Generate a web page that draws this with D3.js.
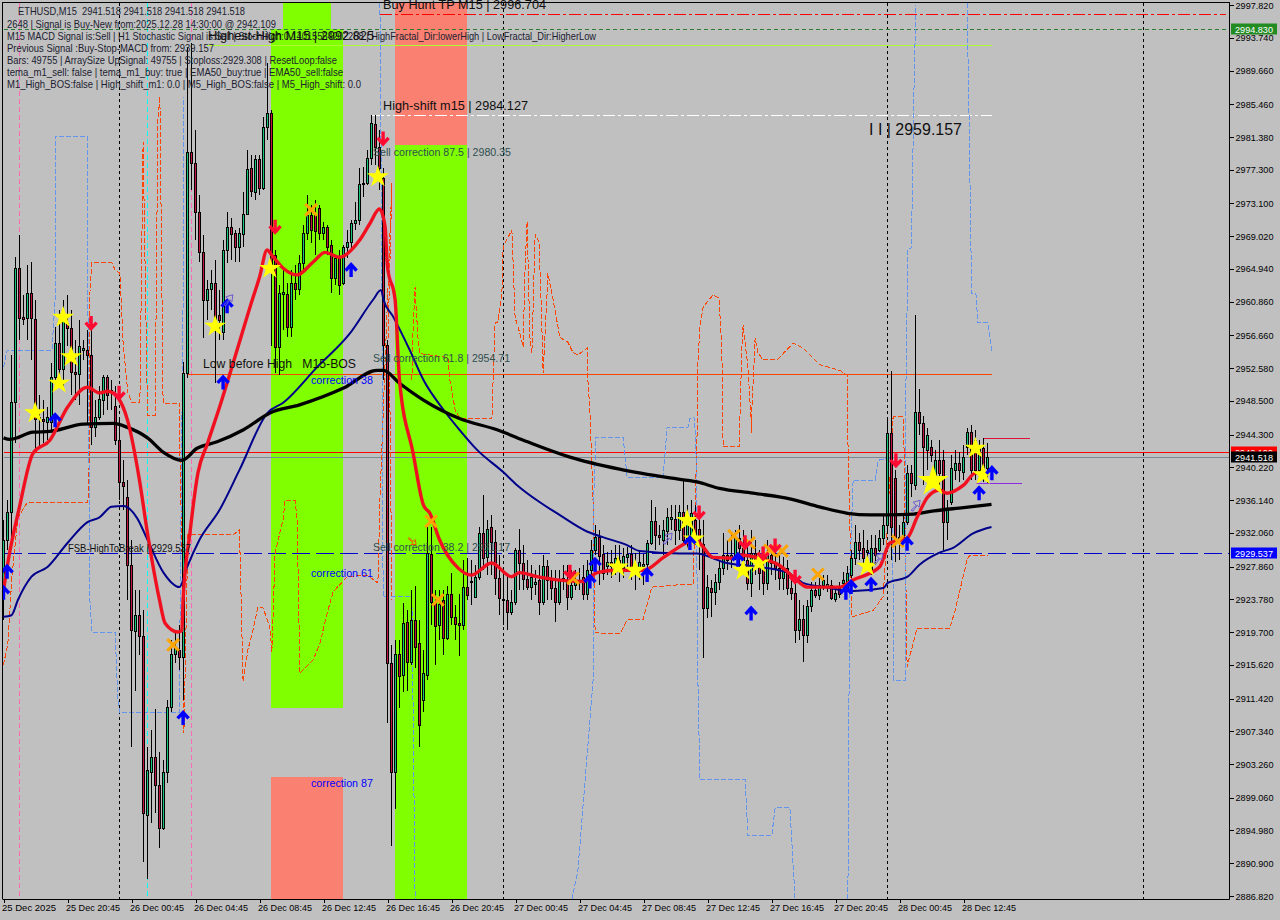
<!DOCTYPE html>
<html><head><meta charset="utf-8">
<script src="https://cdn.jsdelivr.net/npm/d3@7/dist/d3.min.js"></script>
<style>html,body{margin:0;padding:0;background:#c0c0c0;overflow:hidden}svg{display:block}text{font-family:"Liberation Sans",Arial,sans-serif;white-space:pre}</style>
</head><body><svg id="c" width="1280" height="920"></svg>
<script>
const priceTicks=[2997.82,2993.74,2989.66,2985.46,2981.38,2977.30,2973.10,2969.02,2964.94,2960.86,2956.66,2952.58,2948.50,2944.30,2940.22,2936.14,2932.06,2927.86,2923.78,2919.70,2915.62,2911.42,2907.34,2903.26,2899.06,2894.98,2890.90,2886.82];
const timeBars=[0,16,32,48,64,80,96,112,128,144,160,176,192,208,224,240];
const timeLabels=["25 Dec 2025","25 Dec 20:45","26 Dec 00:45","26 Dec 04:45","26 Dec 08:45","26 Dec 12:45","26 Dec 16:45","26 Dec 20:45","27 Dec 00:45","27 Dec 04:45","27 Dec 08:45","27 Dec 12:45","27 Dec 16:45","27 Dec 20:45","28 Dec 00:45","28 Dec 12:45"];
const opens=[2924.9,2931.2,2934.7,2948.3,2965.0,2959.0,2958.8,2961.9,2958.7,2946.5,2946.3,2945.9,2945.9,2951.5,2955.7,2952.5,2958.2,2957.6,2952.1,2951.9,2954.8,2954.8,2954.2,2945.2,2946.5,2948.6,2951.5,2949.9,2947.9,2943.6,2938.4,2936.5,2928.1,2919.8,2921.8,2919.2,2896.9,2902.3,2904.1,2900.7,2895.3,2902.3,2910.4,2917.0,2917.5,2916.6,2952.0,2979.5,2978.1,2972.0,2967.0,2961.1,2962.4,2963.2,2959.2,2957.1,2967.3,2970.2,2969.4,2967.7,2969.3,2971.8,2977.5,2974.5,2978.6,2975.0,2982.6,2984.4,2966.7,2955.2,2961.8,2961.8,2957.7,2963.2,2962.4,2965.7,2969.4,2971.6,2971.6,2972.5,2969.4,2970.2,2967.9,2963.8,2966.3,2963.2,2967.7,2968.3,2970.7,2971.0,2975.5,2975.6,2978.8,2983.0,2980.1,2976.3,2955.5,2915.8,2902.3,2917.0,2914.3,2920.9,2916.0,2921.2,2918.4,2911.2,2914.3,2929.4,2923.3,2920.6,2923.7,2918.9,2924.5,2921.6,2920.8,2920.6,2925.3,2926.1,2924.1,2926.6,2932.0,2929.0,2932.8,2930.9,2926.4,2923.8,2923.7,2922.2,2923.4,2929.9,2928.3,2926.3,2925.3,2925.7,2926.2,2923.4,2927.9,2926.2,2925.2,2923.4,2926.4,2926.2,2924.1,2925.6,2926.2,2926.6,2924.4,2927.4,2929.9,2931.5,2929.4,2927.9,2928.4,2927.7,2928.7,2927.7,2929.0,2929.4,2928.1,2927.7,2927.9,2928.2,2930.8,2933.5,2931.8,2931.2,2932.3,2933.8,2933.8,2932.4,2934.6,2931.2,2931.5,2933.6,2932.6,2930.7,2922.7,2925.2,2924.7,2925.9,2927.7,2929.3,2928.9,2929.3,2931.4,2930.2,2928.7,2925.8,2929.6,2928.7,2927.8,2925.8,2929.3,2928.3,2927.7,2926.4,2927.7,2925.2,2924.6,2920.0,2921.3,2919.3,2922.9,2924.9,2924.3,2925.6,2925.4,2925.6,2923.8,2925.2,2925.8,2925.3,2926.8,2928.9,2930.9,2930.2,2929.7,2927.2,2930.2,2929.9,2931.4,2933.0,2944.5,2938.9,2931.2,2931.5,2933.4,2939.5,2938.0,2947.1,2945.7,2942.4,2942.8,2938.6,2941.1,2941.1,2933.4,2935.9,2939.9,2940.8,2939.6,2942.8,2944.6,2943.6,2939.9,2942.6,2940.1];
const highs=[2933.6,2936.1,2954.2,2966.4,2969.2,2961.7,2965.4,2965.8,2961.1,2949.2,2948.6,2947.7,2953.2,2957.7,2959.8,2961.1,2961.7,2959.8,2956.1,2958.6,2956.1,2957.3,2957.3,2948.6,2950.4,2951.7,2951.7,2951.1,2950.4,2946.1,2941.1,2938.6,2931.2,2924.9,2924.9,2922.4,2905.4,2907.5,2910.1,2904.7,2903.8,2911.2,2918.7,2919.7,2920.6,2953.3,2992.6,2993.1,2982.2,2974.1,2969.2,2963.5,2964.8,2966.0,2962.3,2968.5,2972.0,2971.3,2969.8,2970.0,2974.5,2979.8,2979.1,2979.1,2979.1,2983.9,2990.6,2984.7,2967.3,2962.9,2964.8,2963.2,2964.8,2965.4,2966.7,2970.4,2974.1,2972.9,2973.5,2972.9,2970.8,2970.4,2968.5,2966.7,2967.3,2967.9,2969.8,2971.0,2973.3,2977.5,2977.6,2979.8,2984.1,2984.1,2982.2,2977.5,2956.1,2918.1,2918.7,2918.7,2923.3,2922.4,2924.9,2925.5,2921.2,2917.5,2932.8,2932.8,2924.9,2924.9,2924.9,2925.4,2927.0,2923.1,2924.5,2928.7,2928.9,2928.7,2928.0,2932.8,2936.8,2933.6,2934.3,2932.4,2929.3,2927.4,2926.8,2924.9,2930.2,2932.6,2930.5,2928.7,2928.0,2927.4,2928.0,2929.3,2928.7,2927.4,2927.4,2927.4,2928.0,2928.0,2927.4,2927.4,2927.7,2928.0,2928.7,2931.2,2933.0,2932.4,2930.5,2929.7,2929.9,2930.5,2930.5,2930.2,2930.3,2930.5,2929.6,2929.9,2929.4,2931.2,2936.1,2935.3,2933.0,2933.6,2935.1,2935.5,2935.5,2935.5,2938.6,2935.5,2936.1,2935.5,2934.9,2933.6,2926.8,2926.2,2926.9,2928.7,2932.0,2931.2,2931.8,2932.4,2933.0,2932.4,2931.2,2932.4,2931.2,2929.9,2929.3,2931.2,2930.5,2929.7,2929.3,2929.0,2928.7,2926.8,2926.2,2923.7,2923.1,2923.7,2925.9,2925.9,2926.4,2926.8,2926.8,2926.2,2924.9,2925.9,2927.2,2927.9,2929.9,2933.0,2932.0,2932.4,2931.2,2931.8,2931.8,2932.4,2934.3,2946.5,2952.2,2939.9,2933.0,2934.3,2940.5,2940.5,2959.2,2950.0,2946.6,2945.1,2943.6,2942.4,2943.6,2942.4,2936.1,2941.7,2942.4,2942.1,2943.0,2945.1,2945.5,2944.9,2943.6,2943.9,2943.2];
const lows=[2921.2,2929.9,2931.2,2943.2,2956.1,2957.9,2956.1,2953.6,2942.4,2942.8,2943.2,2943.6,2944.9,2949.9,2950.4,2950.4,2955.4,2949.2,2948.6,2948.0,2953.6,2945.5,2943.0,2944.0,2946.1,2946.7,2947.4,2947.4,2943.0,2936.1,2934.9,2923.7,2905.4,2912.4,2916.8,2891.0,2889.0,2895.9,2897.1,2892.8,2895.0,2900.9,2909.7,2915.8,2915.0,2911.2,2951.4,2974.8,2968.5,2965.8,2956.3,2958.6,2959.8,2950.7,2956.1,2956.1,2965.7,2966.0,2965.8,2965.8,2967.7,2971.7,2973.9,2973.5,2974.1,2974.8,2981.0,2955.4,2952.0,2951.7,2957.3,2956.5,2956.5,2961.1,2961.7,2964.8,2968.5,2968.2,2966.7,2968.5,2968.5,2966.7,2961.9,2962.9,2961.7,2962.9,2966.3,2967.3,2969.8,2970.4,2973.9,2975.4,2977.9,2977.9,2974.8,2951.1,2908.4,2893.0,2897.6,2910.2,2912.2,2912.4,2915.6,2915.2,2905.4,2909.7,2913.7,2920.6,2915.6,2918.7,2916.8,2918.7,2920.6,2918.7,2916.7,2920.0,2923.7,2923.1,2923.9,2926.2,2927.4,2926.8,2926.8,2924.3,2921.8,2920.6,2920.0,2921.8,2923.1,2924.9,2924.9,2924.9,2923.7,2924.3,2921.8,2923.1,2923.7,2923.7,2921.0,2923.1,2924.9,2922.4,2923.7,2924.9,2924.9,2923.7,2923.7,2926.8,2929.3,2925.6,2926.2,2926.8,2926.4,2926.8,2926.0,2926.4,2927.4,2926.2,2924.9,2926.2,2925.6,2926.8,2930.5,2929.9,2930.5,2929.3,2930.5,2932.4,2930.5,2931.2,2930.5,2930.2,2930.5,2930.5,2927.4,2916.5,2921.4,2921.6,2923.1,2924.9,2926.8,2927.4,2927.7,2928.7,2927.7,2926.8,2924.9,2924.1,2926.8,2924.9,2924.3,2924.9,2926.8,2926.2,2924.9,2924.9,2924.3,2923.7,2918.4,2918.7,2916.0,2918.3,2922.2,2923.9,2923.7,2924.9,2924.7,2923.7,2923.4,2923.9,2924.9,2924.9,2926.4,2928.1,2928.7,2928.1,2928.4,2926.8,2928.1,2929.7,2930.5,2932.2,2928.7,2928.4,2928.7,2931.2,2933.0,2936.5,2937.4,2944.2,2938.0,2939.9,2940.9,2937.4,2938.0,2929.9,2931.2,2935.5,2938.6,2938.4,2938.6,2941.7,2938.6,2938.6,2938.6,2938.4,2938.3];
const closes=[2931.2,2934.6,2948.3,2965.0,2958.8,2958.7,2961.9,2958.8,2946.3,2946.3,2946.0,2946.5,2951.5,2955.7,2952.5,2958.6,2957.6,2952.1,2951.9,2955.3,2955.1,2954.2,2945.2,2946.5,2948.7,2951.5,2949.2,2949.6,2943.6,2938.4,2937.9,2928.1,2920.0,2921.8,2919.2,2897.1,2902.5,2904.1,2900.6,2895.3,2902.3,2910.4,2917.0,2917.9,2916.6,2952.0,2979.5,2978.1,2972.0,2967.0,2961.1,2962.4,2963.2,2958.6,2958.6,2967.3,2970.2,2969.3,2967.7,2969.4,2971.8,2977.4,2974.6,2978.6,2975.0,2982.6,2984.4,2964.8,2955.2,2961.9,2962.1,2957.7,2963.2,2962.4,2965.7,2969.4,2971.6,2969.8,2969.7,2969.4,2970.2,2967.7,2963.8,2966.3,2962.9,2967.7,2968.3,2970.7,2971.0,2975.5,2975.6,2978.8,2983.1,2980.1,2977.5,2955.5,2915.8,2902.3,2917.0,2914.2,2920.8,2916.0,2921.2,2917.8,2908.1,2914.6,2929.5,2923.4,2920.5,2923.2,2918.9,2924.5,2921.6,2920.7,2920.6,2925.3,2924.3,2925.9,2926.6,2932.0,2928.9,2932.6,2930.9,2926.4,2923.9,2923.7,2922.2,2923.4,2929.9,2928.3,2926.3,2925.3,2926.6,2925.9,2923.4,2927.9,2926.2,2925.2,2923.4,2926.2,2926.2,2924.1,2925.6,2926.2,2925.9,2924.4,2927.4,2929.9,2931.5,2929.2,2927.1,2928.4,2927.9,2928.9,2927.4,2929.2,2929.4,2927.4,2927.4,2928.4,2928.2,2930.8,2933.5,2931.8,2931.5,2932.4,2934.0,2934.0,2932.4,2934.6,2931.2,2934.0,2934.5,2931.2,2930.8,2922.7,2925.3,2924.7,2925.9,2927.7,2929.3,2928.7,2929.3,2931.4,2930.2,2928.7,2925.8,2929.6,2928.7,2927.1,2925.8,2929.3,2928.3,2927.7,2926.4,2927.7,2925.2,2924.6,2920.0,2921.3,2919.3,2922.9,2924.9,2924.3,2925.6,2926.2,2925.7,2923.9,2924.6,2924.4,2926.2,2927.0,2928.9,2930.9,2929.9,2928.9,2929.9,2930.2,2929.3,2931.4,2933.0,2944.5,2932.8,2931.2,2931.5,2933.4,2939.5,2938.3,2947.1,2945.7,2942.8,2944.2,2941.7,2941.1,2939.5,2933.4,2935.0,2940.1,2940.8,2939.9,2941.5,2944.6,2939.9,2939.9,2942.6,2939.0,2941.518];

const temaBars=[0,1.1,4,7.4,11.6,16,21,24,26,28.6,31,34,36,39,40.4,43.6,44.6,44.9,46.6,48.6,51,54,57.4,62.4,64,65.9,67,70,73.4,77.4,80.4,84,89,91.6,94,95.4,96,97.9,99,102.4,105,106.6,109,113.6,117,122,127,129,133.4,138.4,144.9,148.4,153.4,160,165,171,172.4,174,177.4,182.4,184,189,194,197.4,201,209,212.4,219,221.6,225.9,228.4,231,234,235.9,240,243,246];
const temaVals=[2924.9,2928.4,2935.3,2942.0,2943.6,2947.7,2950.2,2949.5,2949.7,2948.9,2946.1,2938.6,2932.0,2923.7,2920.8,2919.7,2919.9,2923.7,2932.0,2939.5,2943.2,2947.7,2953.2,2961.4,2963.9,2967.3,2966.7,2965.0,2964.2,2965.8,2967.0,2966.4,2968.5,2970.6,2972.4,2970.2,2965.2,2961.1,2951.1,2942.0,2935.5,2934.5,2931.2,2927.7,2926.8,2928.3,2926.6,2927.1,2926.6,2926.2,2926.0,2927.1,2927.4,2927.4,2929.0,2930.9,2931.2,2930.8,2929.0,2928.9,2929.3,2928.9,2928.0,2926.6,2925.3,2925.3,2926.2,2927.8,2930.8,2931.4,2934.0,2936.5,2937.4,2937.0,2938.0,2939.5,2939.3];
const ema50Bars=[0,2,3.6,7,11,16,21,24,27,30,33.4,36,40,44,45.9,49,54,59,66,70,78.4,86.6,92.4,94.4,95,97.4,101.6,105,110,114,118.4,125,128.4,134,139,146,150,156,159,169,173.4,177.4,180,187.4,196,200,206.6,211.6,220,221,226,229,234,237.4,242.4,247];
const ema50Vals=[2921.6,2921.8,2923.7,2926.6,2927.8,2930.8,2933.4,2934.0,2935.3,2935.4,2933.9,2931.2,2927.1,2925.3,2927.8,2931.2,2934.9,2939.9,2947.0,2948.3,2952.7,2956.9,2961.1,2962.3,2961.1,2959.0,2954.8,2951.1,2947.4,2944.9,2942.4,2939.6,2938.0,2935.9,2934.3,2932.2,2931.5,2930.5,2929.8,2929.5,2929.5,2928.9,2928.4,2927.9,2927.1,2925.8,2925.2,2924.8,2925.2,2925.8,2926.6,2928.1,2929.6,2930.2,2932.0,2932.8];
const ema200Bars=[0,1.6,7.4,11.6,20,27.4,31,36,40,44.6,48.4,53.4,60,66.6,74,85,93.4,95,99,105,114,123.4,131,141.6,154,166.6,173.4,179,187.4,196.6,204,211,216.6,221,227.6,232.6,240,247];
const ema200Vals=[2943.9,2943.7,2944.6,2944.7,2945.6,2945.7,2945.2,2943.9,2942.1,2941.1,2942.6,2943.4,2944.9,2947.0,2948.0,2950.1,2952.3,2952.3,2950.7,2948.6,2946.3,2944.9,2943.4,2941.5,2940.0,2938.9,2938.4,2937.6,2937.0,2936.3,2935.3,2934.5,2934.3,2934.3,2934.4,2934.8,2935.2,2935.6];

const orangeBarsA=[0,1.1,2.1,3.6,5.9,21.1,21.6,21.6,22.1,27.1,27.9,29.1,29.9,31.1,32.1,34.1,34.9,35.9,36.1,37.9,38.6,39.1,39.9,44.1,44.1,44.9,45.1,46.1,57.4,58.9,59.1,59.9,61.1,62.4,63.6,64.9,66.6,67.1,67.9,69.9,70.4,72.9,73.4,74.1,77.4,79.1,81.1,82.4,85.9,90.9,93.6,94.1,97.1,96.1,96.6,97.1];
const orangeValsA=[2915.6,2918.3,2926.6,2934.0,2935.8,2935.8,2943.6,2961.9,2965.7,2965.7,2964.8,2964.4,2955.7,2949.5,2948.3,2948.3,2980.7,2949.9,2946.7,2946.7,2983.5,2986.4,2948.2,2948.2,2941.5,2923.7,2907.1,2931.8,2931.8,2932.4,2930.2,2913.5,2917.5,2920.0,2922.8,2922.7,2920.3,2917.2,2929.6,2933.7,2936.1,2936.1,2933.7,2914.6,2916.2,2918.3,2922.4,2924.7,2926.6,2926.8,2925.8,2936.1,2975.6,2955.7,2948.6,2923.7];
const orangeBarsB=[102.1,102.4,102.9,103.6,104.1,111.1,111.6,112.9,114.1,122.1,122.4,122.9,123.6,124.6,124.9,127.1,127.9,129.1,129.9,130.4,130.9,131.6,132.1,132.9,133.9,134.6,134.9,135.9,136.1,137.4,139.1,141.1,142.4,143.6,145.9,146.1,146.6,147.4,147.9,154.1,155.9,159.9,162.1,169.1,172.4,173.4,173.6,174.1,174.9,177.4,178.9,179.6,179.9,183.9,184.6,184.9,186.1,187.1,187.1,187.9,188.6,189.9,193.4,197.4,199.9,204.1,209.1,210.9,211.1,212.1,217.4,219.9,220.4,222.4,224.9,225.1,225.9,228.4,236.6,237.9,240.9,241.6,246.1];
const orangeValsB=[2951.1,2957.6,2962.7,2956.4,2954.4,2953.9,2951.1,2947.4,2946.3,2946.3,2951.1,2958.3,2958.3,2961.9,2967.7,2969.8,2958.9,2956.9,2955.2,2965.2,2970.8,2956.4,2954.5,2969.2,2968.3,2957.7,2952.0,2961.9,2964.4,2961.1,2956.4,2955.8,2954.5,2954.2,2955.1,2951.1,2947.4,2935.8,2919.6,2919.5,2921.2,2921.3,2925.3,2925.6,2925.6,2944.5,2953.2,2957.7,2960.2,2961.7,2961.3,2954.5,2942.8,2942.8,2955.2,2957.9,2952.7,2944.5,2947.4,2956.3,2954.5,2953.6,2953.6,2955.7,2955.1,2953.0,2952.3,2951.7,2943.6,2921.6,2922.4,2924.1,2927.8,2946.5,2946.5,2943.6,2915.4,2920.2,2920.2,2922.4,2928.7,2929.3,2929.3];
const blueBarsA=[0,0.9,12.1,12.9,12.9,21.1,21.1,21.6,22.1,27.9,28.6,29.1,44.1,44.1,44.9,44.9];
const blueValsA=[2952.7,2954.8,2954.8,2961.1,2981.4,2981.4,2961.1,2923.7,2919.7,2919.7,2911.2,2909.7,2909.7,2919.6,2961.1,2986.4];
const blueBarsB=[94.1,94.6,94.9,102.1,102.9];
const blueValsB=[2998.1,2966.4,2924.1,2924.1,2886.5];
const blueBarsC=[142.1,143.6,147.4,147.4,148.1,154.9,155.9,164.9,165.9,171.1,171.6,172.6,173.1,173.6,174.1,185.4,186.1,192.1,192.9,196.6,197.9];
const blueValsC=[2886.4,2890.0,2913.7,2934.5,2944.0,2944.0,2939.0,2938.9,2945.2,2945.2,2946.3,2946.5,2943.6,2913.7,2901.3,2901.3,2894.4,2894.4,2897.8,2897.8,2886.4];
const blueBarsD=[211.1,211.4,211.6,212.4,217.9,218.6,222.1,222.6,225.4,225.4,225.9,226.1,227.1,227.1,227.6,228.1];
const blueValsD=[2886.4,2913.7,2927.1,2938.6,2938.6,2941.1,2941.4,2913.7,2913.7,2943.6,2960.2,2967.3,2967.6,2971.3,2986.8,2997.8];
const blueBarsE=[240.9,241.4,241.9,242.1,243.1,243.6,246.1,247.1];
const blueValsE=[2998.1,2983.5,2966.4,2961.9,2961.9,2958.3,2958.2,2954.6];

const starBars=[7.9,14.9,16.9,13.9,52.9,66.6,93.6,153.6,157.9,170.9,172.6,184.9,188.9,215.9,243,244.9];
const starVals=[2947.0,2958.9,2954.0,2950.7,2957.8,2965.0,2976.4,2927.8,2927.4,2933.6,2931.3,2927.4,2928.3,2927.9,2942.6,2939.3];
const bigStarBars=[232.4];
const bigStarVals=[2938.5];
const crossBars=[42.4,76.9,106.9,108.6,142.4,182.6,186.4,191.6,194.6,203.6,223.6];
const crossVals=[2918.1,2972.3,2933.5,2923.7,2926.4,2931.7,2930.8,2929.9,2929.8,2926.9,2931.0];
const upBars=[0.9,0,12.9,54.9,55.9,44.9,86.9,146.6,147.9,160.9,171.6,183.6,186.9,210.6,211.9,216.9,225.9,243.9,247.1];
const upVals=[2927.2,2924.6,2946.1,2950.8,2960.3,2909.0,2964.8,2926.0,2928.1,2926.8,2930.8,2928.7,2922.0,2924.6,2925.3,2925.6,2930.7,2937.0,2939.5];
const downBars=[21.9,28.9,67.9,94.9,141.6,173.9,185.4,189.9,192.9,197.9,223.1];
const downVals=[2958.2,2949.5,2970.2,2981.2,2927.2,2934.6,2930.9,2929.5,2930.5,2926.6,2941.1];
const hollowBars=[227.9,218.6,165.9,56.1];
const hollowVals=[2935.5,2928.9,2931.4,2961.1];
const hollowOrangeBars=[102.4];
const hollowOrangeVals=[2931.1];

const zoneColors=["#7fff00","#7fff00","#fa8072","#fa8072","#7fff00"];
const zoneStart=[66.9,69.9,66.9,97.9,97.9];
const zoneEnd=[84.9,81.9,84.9,115.9,115.9];
const zoneTop=[2994.83,2998.2,2901.7,2998.2,2980.4];
const zoneBottom=[2910.3,2994.83,2886.4,2980.4,2886.4];
const hPrices=[2996.704,2994.83,2992.825,2984.127,2951.9,2942.109,2941.518,2929.537,2943.9,2938.3];
const hFrom=[94,0,50.9,92,46,0,0,0,245,243];
const hTo=[305.6,306.5,247,247,247,306.5,306.5,306.5,256.6,254.6];
const hColors=["#ff0000","#2e7d32","#adff2f","#ffffff","#ff4500","#ff0000","#778899","#0000cd","#dc143c","#8a2be2"];
const hDash=["12 3 3 3","4 3","","12 3 3 3","","","","18 6","",""];
const sepBars=[29,125,221,285];
const pinkBars=[3.9,47.1];
const cyanBars=[35.9];
const tagVals=[2994.83,2942.109,2941.518,2929.537];
const tagFill=["#228b22","#ff0000","#000000","#0000ff"];

const svg=d3.select("#c");
const x=d3.scaleLinear().domain([0,246]).range([3.5,987.5]);
const y=d3.scaleLinear().domain([2997.82,2886.82]).range([5,896]);
svg.append("clipPath").attr("id","plot").append("rect").attr("x",3).attr("y",3).attr("width",1226).attr("height",896);
const g=svg.append("g").attr("clip-path","url(#plot)");

zoneColors.forEach((c,i)=>{
  g.append("rect").attr("x",x(zoneStart[i])).attr("width",x(zoneEnd[i])-x(zoneStart[i])).attr("y",y(zoneTop[i])).attr("height",y(zoneBottom[i])-y(zoneTop[i])).attr("fill",c).attr("shape-rendering","crispEdges");
});
const vline=(b,c,d)=>g.append("line").attr("x1",Math.floor(x(b))+.5).attr("x2",Math.floor(x(b))+.5).attr("y1",3).attr("y2",899).attr("stroke",c).attr("stroke-dasharray",d).attr("shape-rendering","crispEdges");
pinkBars.forEach(b=>vline(b,"#ff69b4","5 3"));
cyanBars.forEach(b=>vline(b,"#00ffff","5 3"));
sepBars.forEach(b=>vline(b,"#000000","3 3"));

hPrices.forEach((p,i)=>{
  g.append("line").attr("x1",x(hFrom[i])).attr("x2",x(hTo[i])).attr("y1",Math.round(y(p))+.5).attr("y2",Math.round(y(p))+.5).attr("stroke",hColors[i]).attr("stroke-dasharray",hDash[i]||null).attr("shape-rendering","crispEdges");
});

const ln=d3.line();
const dashLine=(bars,vals,c)=>g.append("path").attr("d",ln(bars.map((b,i)=>[x(b),y(vals[i])]))).attr("fill","none").attr("stroke",c).attr("stroke-width",1).attr("stroke-dasharray","5 2").attr("shape-rendering","crispEdges");
dashLine(orangeBarsA,orangeValsA,"#ff4500");
dashLine(orangeBarsB,orangeValsB,"#ff4500");
[[blueBarsA,blueValsA],[blueBarsB,blueValsB],[blueBarsC,blueValsC],[blueBarsD,blueValsD],[blueBarsE,blueValsE]].forEach(a=>dashLine(a[0],a[1],"#6495ed"));

const cg=g.append("g").attr("shape-rendering","crispEdges");
opens.forEach((o,i)=>{
  const c=closes[i],px=Math.floor(x(i))+.5,up=c>=o;
  const t=Math.round(y(Math.max(o,c))),b=Math.round(y(Math.min(o,c)));
  cg.append("line").attr("x1",px).attr("x2",px).attr("y1",y(highs[i])).attr("y2",y(lows[i])).attr("stroke","#000");
  cg.append("rect").attr("x",px-1).attr("y",t+.5).attr("width",2).attr("height",Math.max(b-t,1)).attr("fill",up?"#14c878":"#c4143c").attr("stroke","#000");
});

const smooth=d3.line().curve(d3.curveMonotoneX);
const thick=(bars,vals,c,w)=>g.append("path").attr("d",smooth(bars.map((b,i)=>[x(b),y(vals[i])]))).attr("fill","none").attr("stroke",c).attr("stroke-width",w).attr("stroke-linejoin","round");
thick(ema50Bars,ema50Vals,"#00008b",2);
thick(ema200Bars,ema200Vals,"#000000",3.3);
thick(temaBars,temaVals,"#f01020",3.4);

const sym=(type,size)=>d3.symbol().type(type).size(size)();
const place=(bars,vals,fn)=>bars.forEach((b,i)=>fn(g.append("path").attr("transform",`translate(${x(b)},${y(vals[i])})`)));
place(starBars,starVals,s=>s.attr("d",sym(d3.symbolStar,150)).attr("fill","#ffff00"));
place(bigStarBars,bigStarVals,s=>s.attr("d",sym(d3.symbolStar,300)).attr("fill","#ffff00"));
place(crossBars,crossVals,s=>s.attr("d",sym(d3.symbolTimes,90)).attr("fill","none").attr("stroke","#ffa500").attr("stroke-width",3));
place(upBars,upVals,s=>s.attr("d","M0,7V-5M-5.5,0.5L0,-5.5L5.5,0.5").attr("fill","none").attr("stroke","#0000ff").attr("stroke-width",3.4));
place(downBars,downVals,s=>s.attr("d","M0,-7V5M-5.5,-0.5L0,5.5L5.5,-0.5").attr("fill","none").attr("stroke","#ff0a32").attr("stroke-width",3.4));
place(hollowBars,hollowVals,s=>s.attr("d","M-4,5L1,0L-2,-3L5,-5L4,2L2,0L-2,6Z").attr("fill","none").attr("stroke","#6a5acd").attr("stroke-width",1));
place(hollowOrangeBars,hollowOrangeVals,s=>s.attr("d","M-4,-3L0,1L2,-1L3,4L-2,4L0,2L-5,-2Z").attr("fill","none").attr("stroke","#ff4500").attr("stroke-width",1));

/* axes */
const axR=d3.axisRight(y).tickValues(priceTicks).tickSize(4).tickPadding(2).tickFormat(d3.format(".3f"));
const gR=svg.append("g").attr("transform","translate(1229.5,0)").call(axR);
gR.select(".domain").attr("d","M0,2.5V899.5").attr("stroke","#000");
gR.selectAll("line").attr("shape-rendering","crispEdges");
gR.selectAll("text").attr("x",6).attr("font-size",9.5).attr("fill","#000").attr("textLength",38).attr("lengthAdjust","spacingAndGlyphs").style("font-family","'Liberation Sans',sans-serif");
const axB=d3.axisBottom(x).tickValues(timeBars).tickSize(3).tickPadding(2).tickFormat((d,i)=>timeLabels[i]);
const gB=svg.append("g").attr("transform","translate(0,899.5)").call(axB);
gB.select(".domain").attr("d","M2.5,0H1229.5").attr("stroke","#000");
gB.selectAll("line").attr("shape-rendering","crispEdges");
gB.selectAll("text").attr("text-anchor","start").attr("dx",-2).attr("font-size",9.5).attr("fill","#000").attr("textLength",54).attr("lengthAdjust","spacingAndGlyphs").style("font-family","'Liberation Sans',sans-serif");
svg.append("path").attr("d","M2.5,899V2.5H1229.5").attr("fill","none").attr("stroke","#000").attr("shape-rendering","crispEdges");

tagVals.forEach((v,i)=>{
  const cy=Math.round(y(v));
  svg.append("rect").attr("x",1231).attr("y",cy-5.5).attr("width",46).attr("height",11).attr("fill",tagFill[i]);
  svg.append("text").attr("x",1235).attr("y",cy+3.5).attr("font-size",9.5).attr("fill","#fff").attr("textLength",38).attr("lengthAdjust","spacingAndGlyphs").text(v.toFixed(3));
});

/* text */
const commentX=[18,7,7,7,7,7,7];
const commentY=[14.5,27.5,39.5,51.5,63.5,75.5,87.5];
const commentW=[227,269,589,207,330,336,354];
const commentRows=["ETHUSD,M15  2941.518 2941.518 2941.518 2941.518",
"2648 | Signal is Buy-New from:2025.12.28 14:30:00 @ 2942.109",
"M15 MACD Signal is:Sell | H1 Stochastic Signal is:Sell | StochHigh:0.14015564202268 | HighFractal_Dir:lowerHigh | LowFractal_Dir:HigherLow",
"Previous Signal :Buy-Stop-MACD from: 2939.157",
"Bars: 49755 | ArraySize UpSignal: 49755 | Stoploss:2929.308 | ResetLoop:false",
"tema_m1_sell: false | tema_m1_buy: true | EMA50_buy:true | EMA50_sell:false",
"M1_High_BOS:false | High_shift_m1: 0.0 | M5_High_BOS:false | M5_High_shift: 0.0"];
commentRows.forEach((t,i)=>svg.append("text").attr("x",commentX[i]).attr("y",commentY[i]).attr("font-size",10.5).attr("fill","#1c2030").attr("textLength",commentW[i]).attr("lengthAdjust","spacingAndGlyphs").text(t));

const lab=(t,px,py,fs,c,w)=>svg.append("text").attr("x",px).attr("y",py).attr("font-size",fs).attr("fill",c).attr("textLength",w).attr("lengthAdjust","spacingAndGlyphs").text(t);
lab("Buy Hunt TP M15 | 2996.704",383,9,13,"#101010",163);
lab("Highest-High M15 | 2992.825",208,40,13,"#101010",166);
lab("High-shift m15 | 2984.127",383,110,13,"#101010",145);
lab("I I | 2959.157",869,135,16,"#101010",93);
lab("Sell correction 87.5 | 2980.35",373,156,11.5,"#2f4f4f",138);
lab("Sell correction 61.8 | 2954.71",373,362,11.5,"#2f4f4f",137);
lab("Sell correction 38.2 | 2931.17",373,551,11.5,"#2f4f4f",137);
lab("Low before High   M15-BOS",203,368,12.5,"#101010",153);
lab("correction 38",311,384,11.5,"#0000ff",62);
lab("correction 61",311,577,11.5,"#0000ff",62);
lab("correction 87",311,787,11.5,"#0000ff",62);
lab("FSB-HighToBreak | 2929.537",68,552,11,"#101010",123);
</script></body></html>
